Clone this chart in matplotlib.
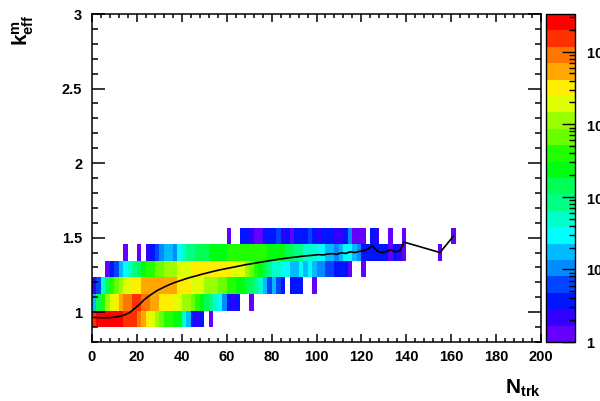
import colorsys
import numpy as np
import matplotlib
matplotlib.use('Agg')
import matplotlib.pyplot as plt
from matplotlib.colors import ListedColormap, LogNorm
from matplotlib.ticker import MultipleLocator, LogLocator, FuncFormatter, NullFormatter, FormatStrFormatter

# k_eff bin edges (rows, bottom to top) and N_trk bin edges (2 tracks wide)
k_edges = [0.9, 1.011, 1.122, 1.233, 1.344, 1.456, 1.567]
n_edges = np.arange(0, 202, 2)

# entries per cell, N_trk bins 0-2 ... 138-140, one list per k_eff row
row0 = [15000, 26000, 26000, 26000, 26000, 26000, 26000, 15000, 15000, 15000,
        9000, 5300, 3200, 1900, 1100, 670, 400, 400, 240, 240,
        50, 18, 4, 2, 4, 0, 1, 0, 0, 0,
        0, 0, 0, 0, 0, 0, 0, 0, 0, 0,
        0, 0, 0, 0, 0, 0, 0, 0, 0, 0,
        0, 0, 0, 0, 0, 0, 0, 0, 0, 0,
        0, 0, 0, 0, 0, 0, 0, 0, 0, 0]
row1 = [18, 140, 400, 1100, 1900, 3200, 5300, 9000, 9000, 15000,
        15000, 9000, 9000, 5300, 5300, 3200, 3200, 3200, 1900, 1900,
        1100, 1100, 670, 400, 240, 140, 85, 50, 30, 10,
        4, 2, 4, 0, 0, 1, 0, 0, 0, 0,
        0, 0, 0, 0, 0, 0, 0, 0, 0, 0,
        0, 0, 0, 0, 0, 0, 0, 0, 0, 0,
        0, 0, 0, 0, 0, 0, 0, 0, 0, 0]
row2 = [2, 6, 50, 140, 400, 670, 1100, 1900, 1900, 3200,
        3200, 5300, 5300, 5300, 5300, 5300, 5300, 5300, 5300, 3200,
        3200, 3200, 1900, 1900, 1900, 1100, 1100, 1100, 670, 670,
        400, 400, 240, 240, 140, 140, 85, 50, 18, 6,
        18, 6, 4, 0, 4, 4, 4, 0, 0, 1,
        0, 0, 0, 0, 0, 0, 0, 0, 0, 0,
        0, 0, 0, 0, 0, 0, 0, 0, 0, 0]
row3 = [0, 0, 0, 1, 4, 6, 18, 30, 50, 85,
        140, 240, 400, 400, 670, 670, 1100, 1100, 1100, 1900,
        1900, 1900, 3200, 3200, 3200, 3200, 3200, 3200, 3200, 3200,
        3200, 1900, 1900, 1900, 1100, 670, 400, 240, 140, 85,
        50, 50, 30, 30, 18, 18, 30, 18, 30, 18,
        10, 10, 6, 6, 4, 4, 4, 1, 0, 0,
        1, 0, 0, 0, 0, 0, 0, 0, 0, 0]
row4 = [0, 0, 0, 0, 0, 0, 0, 1, 0, 0,
        1, 0, 2, 4, 6, 10, 18, 18, 10, 30,
        50, 85, 85, 140, 140, 140, 240, 240, 240, 240,
        400, 400, 400, 400, 400, 400, 400, 400, 400, 240,
        240, 240, 240, 140, 140, 85, 85, 50, 50, 50,
        30, 30, 18, 18, 10, 18, 30, 30, 18, 10,
        4, 4, 4, 4, 4, 4, 1, 4, 2, 1]
row5 = [0, 0, 0, 0, 0, 0, 0, 0, 0, 0,
        0, 0, 0, 0, 0, 0, 0, 0, 0, 0,
        0, 0, 0, 0, 0, 0, 0, 0, 0, 0,
        1, 0, 0, 4, 4, 2, 1, 1, 4, 4,
        4, 6, 2, 4, 1, 4, 4, 4, 6, 4,
        2, 4, 4, 4, 2, 2, 4, 10, 1, 1,
        1, 0, 4, 2, 0, 0, 1, 0, 0, 1]

# isolated high multiplicity entries
far_n = [155, 161]
far_row = [4, 5]
far_cnt = [1, 1]

# profile (mean k_eff per N_trk bin)
prof_n = [1, 3, 5, 7, 9, 11, 13, 15, 17, 19,
          21, 23, 25, 27, 29, 31, 33, 35, 37, 39,
          41, 43, 45, 47, 49, 51, 53, 55, 57, 59,
          61, 63, 65, 67, 69, 71, 73, 75, 77, 79,
          81, 83, 85, 87, 89, 91, 93, 95, 97, 99,
          101, 103, 105, 107, 109, 111, 113, 115, 117, 119,
          121, 123, 125, 127, 129, 131, 133, 135, 137, 139,
          155, 161]
prof_k = [0.965, 0.963, 0.962, 0.963, 0.965, 0.968, 0.975, 0.985, 1.0, 1.025,
          1.05, 1.08, 1.105, 1.125, 1.145, 1.16, 1.175, 1.188, 1.2, 1.21,
          1.22, 1.23, 1.238, 1.246, 1.255, 1.262, 1.27, 1.277, 1.284, 1.29,
          1.296, 1.302, 1.308, 1.314, 1.32, 1.325, 1.33, 1.335, 1.34, 1.345,
          1.35, 1.355, 1.359, 1.363, 1.367, 1.37, 1.374, 1.377, 1.38, 1.383,
          1.386, 1.384, 1.39, 1.393, 1.388, 1.398, 1.394, 1.405, 1.40, 1.408,
          1.412, 1.425, 1.445, 1.41, 1.40, 1.405, 1.42, 1.405, 1.41, 1.47,
          1.40, 1.51]


def root_palette(ncont=20):
    # ROOT "pretty" palette (violet -> red), 20 contour levels
    cols = []
    for i in range(ncont):
        p = int((i + 0.99) * 50 / ncont)
        if p >= 49:
            cols.append((1.0, 0.0, 0.0))
        else:
            hue = 280 - (p + 1) * 280 / 50
            cols.append(colorsys.hls_to_rgb(hue / 360, 0.5, 1.0))
    return ListedColormap(cols)


plt.rcParams['font.family'] = ['Liberation Sans', 'DejaVu Sans']
plt.rcParams['font.weight'] = 'bold'
plt.rcParams['mathtext.fontset'] = 'custom'
plt.rcParams['mathtext.rm'] = 'Liberation Sans:bold'
plt.rcParams['mathtext.it'] = 'Liberation Sans:bold'
plt.rcParams['mathtext.bf'] = 'Liberation Sans:bold'
plt.rcParams['mathtext.default'] = 'rm'

counts = np.zeros((len(k_edges) - 1, len(n_edges) - 1))
rows = [row0, row1, row2, row3, row4, row5]
for i, r in enumerate(rows):
    counts[i, :len(r)] = r
for n, r, c in zip(far_n, far_row, far_cnt):
    counts[r, int(n // 2)] = c
counts = np.ma.masked_where(counts <= 0, counts)

fig = plt.figure(figsize=(6, 4.01), dpi=100)
ax = fig.add_axes([92 / 600, 59 / 401, 449 / 600, 328 / 401])
cax = fig.add_axes([546 / 600, 59 / 401, 29 / 600, 328 / 401])

mesh = ax.pcolormesh(n_edges, k_edges, counts, cmap=root_palette(20),
                     norm=LogNorm(vmin=1, vmax=33000))
ax.plot(prof_n, prof_k, color='black', lw=1.2)

ax.set_xlim(0, 200)
ax.set_ylim(0.8, 3.0)
ax.xaxis.set_major_locator(MultipleLocator(20))
ax.xaxis.set_minor_locator(MultipleLocator(4))
ax.yaxis.set_major_locator(MultipleLocator(0.5))
ax.yaxis.set_minor_locator(MultipleLocator(0.1))
ax.yaxis.set_major_formatter(FormatStrFormatter('%g'))
ax.tick_params(which='both', direction='in', top=True, right=True, width=1.1, labelsize=10.5)
ax.tick_params(axis='x', which='major', length=6, pad=6)
ax.tick_params(axis='x', which='minor', length=3)
ax.tick_params(axis='y', which='major', length=9.4, pad=7)
ax.tick_params(axis='y', which='minor', length=4.5)
for s in ax.spines.values():
    s.set_linewidth(1.1)

ax.text(-0.154, 1.0, r'$k^{m}_{eff}$', rotation=90, ha='center', va='top',
        transform=ax.transAxes, fontsize=15)
ax.text(1.0, -0.158, r'$N_{trk}$', ha='right', va='baseline',
        transform=ax.transAxes, fontsize=15)

cb = fig.colorbar(mesh, cax=cax)
cb.outline.set_linewidth(1.0)


def cb_fmt(v, pos):
    e = int(round(np.log10(v)))
    if e == 0:
        return '1'
    if e == 1:
        return '10'
    return r'$10^{%d}$' % e


cax.yaxis.set_major_locator(LogLocator(base=10))
cax.yaxis.set_minor_locator(LogLocator(base=10, subs=np.arange(2, 10)))
cax.yaxis.set_major_formatter(FuncFormatter(cb_fmt))
cax.yaxis.set_minor_formatter(NullFormatter())
cax.tick_params(which='both', direction='in', width=1.0, labelsize=10.5, pad=8)
cax.tick_params(which='major', length=9.4)
cax.tick_params(which='minor', length=4)

fig.savefig('out.png', dpi=100)
